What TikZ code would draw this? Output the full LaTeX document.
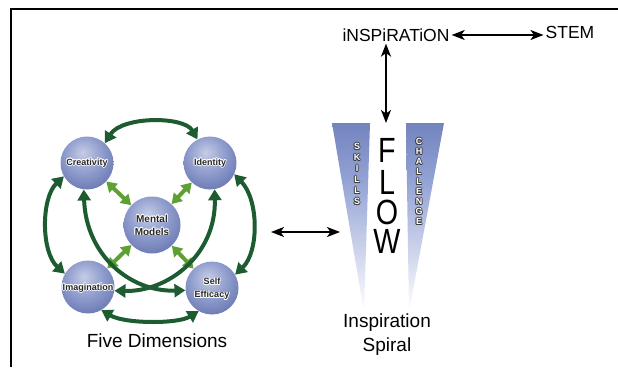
\documentclass[tikz,border=0pt]{standalone}
\usepackage{fontspec}
\setmainfont{Liberation Sans}
\usetikzlibrary{arrows.meta}

\definecolor{ringgreen}{HTML}{1D5B30}
\definecolor{spokegreen}{HTML}{5FA032}
\definecolor{sphL}{HTML}{C5CCE6}
\definecolor{sphM}{HTML}{8E9BCC}
\definecolor{sphD}{HTML}{4F5FA0}
\definecolor{sphE}{HTML}{303E7C}
\definecolor{coneTop}{HTML}{3D5199}
\definecolor{coneMid}{HTML}{93A2D4}

% shaded ball for the five dimensions
\pgfdeclareradialshading{orb}{\pgfpoint{-4bp}{10bp}}{color(0bp)=(sphL); color(18bp)=(sphM); color(44bp)=(sphD); color(62bp)=(sphE); color(80bp)=(sphE)}
% cone fading from blue at the top to white at the tip
\pgfdeclareverticalshading{cone}{100bp}{color(0bp)=(white); color(25bp)=(white); color(60bp)=(coneMid); color(100bp)=(coneTop)}

% text with a halo: name, position, halo colour, style, text
\newcommand\halotext[5]{%
  \foreach \hang in {0,45,...,315}
    \node[#4, text=#3, shift={(\hang:0.8pt)}] at (#2) {#5};
  \node[#4] (#1) at (#2) {#5};}

\begin{document}
\begin{tikzpicture}[x=1pt, y=-1pt,
  orbnode/.style={circle, inner sep=0pt, shade, shading=orb, minimum size=53pt},
  orblabel/.style={font=\fontsize{9}{11}\selectfont\bfseries, text=black!85, align=center, inner sep=0pt},
  spoke/.style={draw=spokegreen, line width=4pt, {Triangle[length=10pt,width=12pt]}-{Triangle[length=10pt,width=12pt]}},
  ring/.style={draw=ringgreen, line width=4pt, {Triangle[length=11pt,width=13pt]}-{Triangle[length=11pt,width=13pt]}},
  blk/.style={draw=black, line width=1.8pt, {Stealth[length=13pt,width=10pt,inset=3.5pt]}-{Stealth[length=13pt,width=10pt,inset=3.5pt]}},
  conelabel/.style={font=\fontsize{9}{9}\selectfont\bfseries, text=white, inner sep=0pt, text height=6.4pt, text depth=0pt},
  flowletter/.style={font=\fontsize{35}{35}\selectfont, inner sep=0pt, anchor=base},
  caption/.style={font=\fontsize{19}{24}\selectfont, align=center, inner sep=0pt},
  topword/.style={font=\fontsize{17.5}{20}\selectfont, inner sep=2pt}]
\useasboundingbox (0,0) rectangle (618,367);

% frame
\draw[line width=2pt] (11,367) -- (11,9) -- (618,9);

% ---- five dimensions ----
\node[orbnode] (cre) at (87,163) {};
\node[orbnode] (ide) at (210,163) {};
\node[orbnode, minimum size=57pt] (mm) at (152,225) {};
\node[orbnode] (img) at (88,287) {};
\node[orbnode] (sef) at (212,288) {};

\draw[spoke] (cre) -- (mm);
\draw[spoke] (ide) -- (mm);
\draw[spoke] (img) -- (mm);
\draw[spoke] (sef) -- (mm);

\draw[ring] (cre.48) .. controls (122,116) and (184,116) .. (ide.118);
\draw[ring] (img.-60) .. controls (125,324) and (178,324) .. (sef.-120);
\draw[ring] (cre.210) .. controls (41,198) and (41,252) .. (img.150);
\draw[ring] (ide.-25) .. controls (259,200) and (259,252) .. (sef.30);
\draw[ring] (cre.-97) .. controls (86,255) and (130,292) .. (sef.185);
\draw[ring] (ide.-80) .. controls (216,255) and (168,292) .. (img.-8);

\halotext{tcre}{87,163}{white}{orblabel}{Creativity}
\halotext{tide}{210,163}{white}{orblabel}{Identity}
\halotext{tmm}{152,225}{white}{orblabel, font=\fontsize{10}{13}\selectfont\bfseries}{Mental\\Models}
\halotext{timg}{88,288}{white}{orblabel}{Imagination}
\halotext{tsef}{212,289}{white}{orblabel, font=\fontsize{9}{13}\selectfont\bfseries}{Self\\Efficacy}

\node[caption] (fivedim) at (157,341) {Five Dimensions};

% ---- inspiration spiral ----
\shade[shading=cone] (332,123) -- (370,123) -- (364,312) -- cycle;
\shade[shading=cone] (406,123) -- (444,123) -- (409,312) -- cycle;

\foreach \ch [count=\i] in {S,K,I,L,L,S}
  \halotext{sk\i}{357,{146.5+11*(\i-1)}}{black!75}{conelabel}{\ch};
\foreach \ch [count=\i] in {C,H,A,L,L,E,N,G,E}
  \halotext{ch\i}{419,{141.5+10*(\i-1)}}{black!75}{conelabel}{\ch};

\node[flowletter] (fF) at (387,162) {\scalebox{0.82}[1]{F}};
\node[flowletter] (fL) at (387,194) {\scalebox{0.82}[1]{L}};
\node[flowletter] (fO) at (387,224) {\scalebox{0.82}[1]{O}};
\node[flowletter] (fW) at (387,253) {\scalebox{0.82}[1]{W}};

\node[caption] (spiral) at (387,335) {Inspiration\\Spiral};

% ---- top line ----
\node[topword] (insp) at (396,35) {iNSPiRATiON};
\node[topword] (stem) at (570,32) {STEM};
\coordinate (flowtop) at (386,123);
\coordinate (diagR) at (271,232);
\coordinate (spiralL) at (340,232);

\draw[blk] (insp.east) -- (insp.east -| stem.west);
\draw[blk] (insp.south -| flowtop) -- (flowtop);
\draw[blk] (diagR) -- (spiralL);
\end{tikzpicture}
\end{document}
